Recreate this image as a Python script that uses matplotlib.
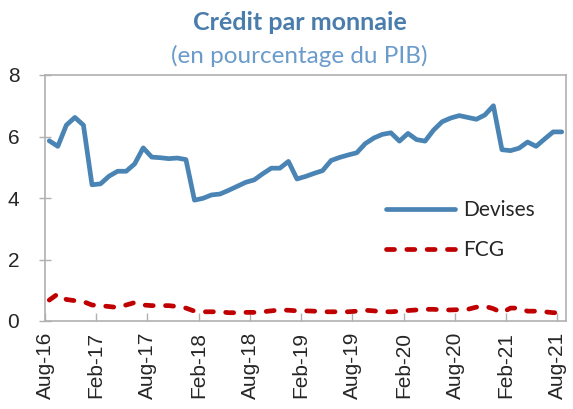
import numpy as np
import matplotlib; matplotlib.use('Agg')
import matplotlib.pyplot as plt

#===============================================================================
# Data : credit by currency, monthly, Aug-16 .. Aug-21 (% of GDP)
#===============================================================================
tick_labels = ['Aug-16', 'Feb-17', 'Aug-17', 'Feb-18', 'Aug-18', 'Feb-19',
               'Aug-19', 'Feb-20', 'Aug-20', 'Feb-21', 'Aug-21']

devises = [5.86, 5.68, 6.37, 6.62, 6.37, 4.43, 4.46, 4.71, 4.87, 4.87,
           5.11, 5.63, 5.33, 5.31, 5.28, 5.30, 5.25, 3.93, 3.99, 4.10,
           4.13, 4.25, 4.38, 4.51, 4.59, 4.79, 4.97, 4.97, 5.19, 4.62,
           4.70, 4.80, 4.89, 5.22, 5.32, 5.40, 5.47, 5.77, 5.95, 6.07,
           6.12, 5.85, 6.10, 5.90, 5.85, 6.21, 6.48, 6.60, 6.68, 6.62,
           6.56, 6.70, 7.00, 5.57, 5.54, 5.62, 5.82, 5.68, 5.92, 6.15,
           6.15]

fcg = [0.68, 0.88, 0.70, 0.66, 0.63, 0.52, 0.50, 0.47, 0.44, 0.52,
       0.60, 0.52, 0.50, 0.50, 0.50, 0.47, 0.42, 0.32, 0.30, 0.30,
       0.30, 0.27, 0.27, 0.28, 0.28, 0.30, 0.33, 0.36, 0.35, 0.33,
       0.33, 0.32, 0.30, 0.30, 0.30, 0.30, 0.32, 0.35, 0.33, 0.30,
       0.30, 0.32, 0.34, 0.36, 0.38, 0.38, 0.36, 0.36, 0.37, 0.38,
       0.45, 0.48, 0.40, 0.27, 0.42, 0.42, 0.32, 0.32, 0.30, 0.27,
       0.27]

# categories sit between tick marks (Excel style)
months = np.arange(len(devises)) + 0.5

#===============================================================================
# Plot
#===============================================================================
plt.rcParams['font.family'] = ['Liberation Sans', 'DejaVu Sans']

fig = plt.figure(figsize=(5.73, 4.09), dpi=100)
ax = fig.add_axes([45/573, 88/409, 521/573, 246/409])

ax.plot(months, devises, color='#4a84b4', lw=3.4, solid_capstyle='round',
        solid_joinstyle='round', label='Devises')
ax.plot(months, fcg, color='#c00000', lw=3.4, dashes=(1.7, 2.6),
        dash_capstyle='round', label='FCG')

ax.set_xlim(0, len(devises))
ax.set_ylim(0, 8)
ax.set_xticks(np.arange(0, len(devises), 6))
ax.set_xticklabels(tick_labels, rotation=90, fontsize=15, color='#262626')
ax.set_yticks([0, 2, 4, 6, 8])
ax.set_yticklabels(['0', '2', '4', '6', '8'], fontsize=15, color='#262626')
ax.tick_params(axis='x', direction='in', length=6, width=1, color='#b0b0b0', pad=8)
ax.tick_params(axis='y', direction='inout', length=9, width=1, color='#b0b0b0', pad=14)
for s in ax.spines.values():
    s.set_color('#b0b0b0')
    s.set_linewidth(1.2)

leg = ax.legend(loc='upper left', bbox_to_anchor=(0.619, 0.567), frameon=False,
                handlelength=3.3, handletextpad=0.4, labelspacing=0.95,
                prop={'family': 'Lato', 'size': 15})
for t in leg.get_texts():
    t.set_color('#262626')

fig.text(0.523, 0.945, 'Crédit par monnaie', ha='center', va='center',
         fontsize=18, fontweight='bold', family='Lato', color='#4a7dab')
fig.text(0.523, 0.862, '(en pourcentage du PIB)', ha='center', va='center',
         fontsize=17.5, family='Lato', color='#6a9bcb')

plt.savefig('out.png', dpi=100)
